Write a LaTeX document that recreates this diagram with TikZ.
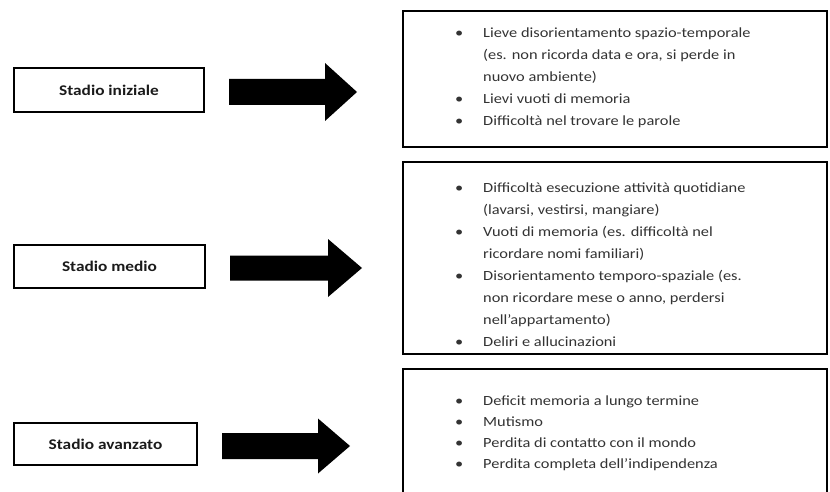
\documentclass[tikz,border=0pt]{standalone}
\usepackage{fontspec}
\setmainfont{Carlito}[FakeStretch=1.17]
\definecolor{txt}{HTML}{333333}
\definecolor{lbl}{HTML}{1A1A1A}
\begin{document}
\begin{tikzpicture}[x=1pt,y=-1pt]
\tikzset{
  stagebox/.style={draw=black, line width=2pt, fill=white, inner sep=0pt,
    font=\bfseries\fontsize{14.8}{18}\selectfont, text=lbl},
  panel/.style={draw=black, line width=2.6pt},
  itemtext/.style={anchor=base west, inner sep=0pt, text=txt,
    font=\fontsize{14}{22}\selectfont},
  blockarrow/.style={fill=black}
}
\newcommand\itm[3]{\node[itemtext] (#1) at (455,#2) {\makebox[28pt][l]{•}#3};}
\newcommand\cnt[3]{\node[itemtext] (#1) at (483,#2) {#3};}
\newcommand\blockarr[7]{%
  \coordinate (#1) at (#2,#5);
  \fill[blockarrow] (#2,{#5-#6}) -- (#3,{#5-#6}) -- (#3,{#5-#7}) -- (#4,#5)
    -- (#3,{#5+#7}) -- (#3,{#5+#6}) -- (#2,{#5+#6}) -- cycle;}
\useasboundingbox (0,0) rectangle (830,492);
\fill[white] (0,0) rectangle (830,492);

% stage labels
\node[stagebox, minimum width=190pt, minimum height=44pt] (s1) at (109,90) {Stadio iniziale};
\node[stagebox, minimum width=191pt, minimum height=43pt] (s2) at (109.5,266.5) {Stadio medio};
\node[stagebox, minimum width=183pt, minimum height=42pt] (s3) at (105.5,444) {Stadio avanzato};

% block arrows
\blockarr{a1}{229}{325}{357}{92}{13}{29}
\blockarr{a2}{230}{328}{362}{268}{12.5}{29}
\blockarr{a3}{222}{318}{350}{446}{13}{27.5}

% panels
\node[panel, minimum width=424pt, minimum height=136pt, inner sep=0pt] (p1) at (615,79) {};
\node[panel, minimum width=424pt, minimum height=192pt, inner sep=0pt] (p2) at (615,258) {};
\coordinate (p3bl) at (403,494);
\coordinate (p3br) at (827,494);
\draw[panel] (p3bl) |- (827,369) -- (p3br);

% panel 1
\itm{t11}{38}{Lieve disorientamento spazio-temporale}
\cnt{t12}{60}{(es. non ricorda data e ora, si perde in}
\cnt{t13}{82}{nuovo ambiente)}
\itm{t14}{104}{Lievi vuoti di memoria}
\itm{t15}{126}{Difficoltà nel trovare le parole}

% panel 2
\itm{t21}{192}{Difficoltà esecuzione attività quotidiane}
\cnt{t22}{214}{(lavarsi, vestirsi, mangiare)}
\itm{t23}{236}{Vuoti di memoria (es. difficoltà nel}
\cnt{t24}{258}{ricordare nomi familiari)}
\itm{t25}{280}{Disorientamento temporo-spaziale (es.}
\cnt{t26}{302}{non ricordare mese o anno, perdersi}
\cnt{t27}{324}{nell’appartamento)}
\itm{t28}{346}{Deliri e allucinazioni}

% panel 3
\itm{t31}{405}{Deficit memoria a lungo termine}
\itm{t32}{426}{Mutismo}
\itm{t33}{447}{Perdita di contatto con il mondo}
\itm{t34}{468}{Perdita completa dell’indipendenza}
\end{tikzpicture}
\end{document}
